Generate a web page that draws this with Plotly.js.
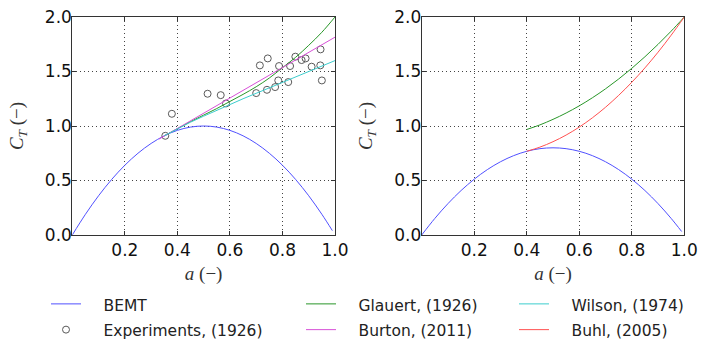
<!DOCTYPE html>
<html><head><meta charset="utf-8">
<script src="https://cdn.plot.ly/plotly-3.0.1.min.js"></script>
<style>html,body{margin:0;padding:0;background:#fff;overflow:hidden;width:724px;height:342px}#plot{width:724px;height:360px}</style>
</head><body><div id="plot"></div>
<script>
// ---- data ----
const bemtA = [0,0.05,0.1,0.15,0.2,0.25,0.3,0.35,0.4,0.45,0.5,0.55,0.6,0.65,0.7,0.75,0.8,0.85,0.9,0.95,0.99];
const bemtLeft = [0,0.19,0.36,0.51,0.64,0.75,0.84,0.91,0.96,0.99,1.0,0.99,0.96,0.91,0.84,0.75,0.64,0.51,0.36,0.19,0.04];
const bemtRight = [0,0.152,0.288,0.408,0.512,0.6,0.672,0.728,0.768,0.792,0.8,0.792,0.768,0.728,0.672,0.6,0.512,0.408,0.288,0.152,0.032];

const expA  = [0.354,0.379,0.515,0.565,0.585,0.700,0.714,0.741,0.744,0.772,0.784,0.787,0.822,0.829,0.849,0.873,0.888,0.911,0.944,0.945,0.950];
const expCT = [0.910,1.112,1.296,1.283,1.207,1.302,1.556,1.332,1.620,1.357,1.418,1.550,1.403,1.550,1.636,1.605,1.620,1.544,1.556,1.703,1.418];

const corrA = [0.35,0.4,0.45,0.5,0.55,0.6,0.65,0.7,0.75,0.8,0.85,0.9,0.95,1.0];
const glauertLeft = [0.91,0.975,1.04,1.10,1.16,1.225,1.29,1.36,1.44,1.535,1.63,1.74,1.86,2.0];
const wilson      = [0.91,0.975,1.035,1.09,1.145,1.20,1.25,1.30,1.35,1.40,1.45,1.50,1.55,1.60];
const burtonA  = [0.33,1.0];
const burton   = [0.88,1.815];

const rightA = [0.4,0.45,0.5,0.55,0.6,0.65,0.7,0.75,0.8,0.85,0.9,0.95,1.0];
const glauertRight = [0.968,1.010,1.061,1.119,1.185,1.259,1.341,1.431,1.529,1.635,1.749,1.870,2.0];
const buhl         = [0.768,0.806,0.856,0.917,0.990,1.075,1.172,1.281,1.401,1.533,1.677,1.833,2.0];

const xTicks = [0.2,0.4,0.6,0.8,1.0];
const yTicks = [0,0.5,1.0,1.5,2.0];

// ---- styles ----
const H = 360;
const C = {blue:'rgb(80,80,255)', green:'rgb(40,150,40)', cyan:'rgb(60,205,205)', mag:'rgb(215,80,215)', red:'rgb(255,80,80)'};
const lw = 1;
function nm(s){ return '\u2003<span style="font-size:15.5px">' + s + '</span>'; }

const traces = [
  {x:bemtA, y:bemtLeft, mode:'lines', line:{color:C.blue,width:lw,shape:'spline'}, name:nm('BEMT'), legend:'legend', xaxis:'x', yaxis:'y'},
  {x:expA, y:expCT, mode:'markers', marker:{symbol:'circle-open',size:7,color:'rgb(90,90,90)',line:{width:1}}, name:nm('Experiments, (1926)'), legend:'legend', xaxis:'x', yaxis:'y'},
  {x:corrA, y:glauertLeft, mode:'lines', line:{color:C.green,width:lw,shape:'spline'}, name:nm('Glauert, (1926)'), legend:'legend2', xaxis:'x', yaxis:'y'},
  {x:burtonA, y:burton, mode:'lines', line:{color:C.mag,width:lw}, name:nm('Burton, (2011)'), legend:'legend2', xaxis:'x', yaxis:'y'},
  {x:corrA, y:wilson, mode:'lines', line:{color:C.cyan,width:lw}, name:nm('Wilson, (1974)'), legend:'legend3', xaxis:'x', yaxis:'y'},
  {x:bemtA, y:bemtRight, mode:'lines', line:{color:C.blue,width:lw,shape:'spline'}, showlegend:false, xaxis:'x2', yaxis:'y2'},
  {x:rightA, y:glauertRight, mode:'lines', line:{color:C.green,width:lw,shape:'spline'}, showlegend:false, xaxis:'x2', yaxis:'y2'},
  {x:rightA, y:buhl, mode:'lines', line:{color:C.red,width:lw,shape:'spline'}, name:nm('Buhl, (2005)'), legend:'legend3', xaxis:'x2', yaxis:'y2'}
];

const tickFont = {family:'DejaVu Sans', size:17, color:'#111'};
const titleFont = {family:'Liberation Serif', size:19, color:'#333'};
const gridStyle = {showgrid:true, gridcolor:'#444', griddash:'1px,3px', gridwidth:1, zeroline:false,
    showline:true, linecolor:'#333', linewidth:1, mirror:'ticks', ticks:'inside', ticklen:4, tickcolor:'#333', tickfont:tickFont};
function xax(domain, anchor){
  return Object.assign({domain:domain, anchor:anchor, range:[0,1], tickvals:xTicks, ticktext:xTicks.map(v=>v.toFixed(1)),
    title:{text:'<i>a</i> (−)', font:titleFont, standoff:7}}, gridStyle);
}
function yax(domain, anchor){
  return Object.assign({domain:domain, anchor:anchor, range:[0,2], tickvals:yTicks, ticktext:yTicks.map(v=>v.toFixed(1)),
    ticklabelstandoff:-4, title:{text:'<i>C</i><sub><i>T</i></sub> (−)', font:titleFont, standoff:16}}, gridStyle);
}
const yd = [1-235/H, 1-17/H];
const legFont = {family:'DejaVu Sans', size:17.5, color:'#222'};
function leg(x){ return {x:x/724, y:1-286/H, xanchor:'left', yanchor:'top', orientation:'v', font:legFont, bgcolor:'rgba(0,0,0,0)', tracegroupgap:0, itemwidth:30}; }

const layout = {
  width:724, height:H, margin:{l:0,r:0,t:0,b:0}, paper_bgcolor:'#fff', plot_bgcolor:'#fff',
  xaxis: xax([72.3/724, 335/724], 'y'),
  yaxis: yax(yd, 'x'),
  xaxis2: xax([421.7/724, 684.3/724], 'y2'),
  yaxis2: yax(yd, 'x2'),
  legend: leg(46),
  legend2: leg(301),
  legend3: leg(514),
  showlegend:true
};
Plotly.newPlot('plot', traces, layout, {displayModeBar:false, staticPlot:true});
</script></body></html>
